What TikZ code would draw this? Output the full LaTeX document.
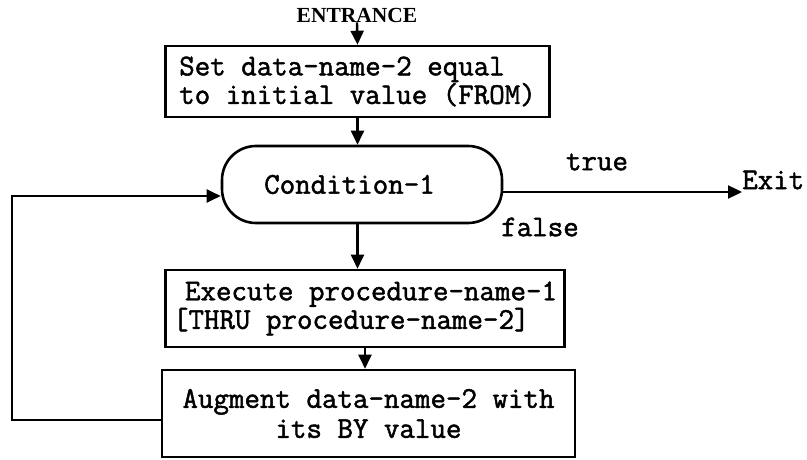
\documentclass[tikz,border=0pt]{standalone}
\usepackage{fontspec}
\usetikzlibrary{arrows.meta}
\newfontfamily\tw[FakeBold=1.6]{Latin Modern Mono}
\newfontfamily\hd{Liberation Serif}
\tikzset{
  tt/.style={font=\tw\fontsize{30.1}{26}\selectfont},
  stepbox/.style={draw, line width=2.6pt, tt, inner ysep=0pt},
  arr/.style={line width=2.4pt, -{Triangle[length=14pt,width=13pt]}},
  lbl/.style={tt, inner sep=0pt},
}
\begin{document}
\begin{tikzpicture}[x=1pt, y=-1pt]
\useasboundingbox (0,0) rectangle (807,460);

% entry label
\node[font=\hd\bfseries\fontsize{21.5}{24}\selectfont, inner sep=0pt] (entry) at (357,15) {ENTRANCE};

% initialisation box
\node[stepbox, align=left, inner xsep=14pt, minimum height=71pt] (init) at (357.5,81.5)
  {Set data-name-2 equal\\to initial value (FROM)};

% loop test
\node[draw, line width=2.6pt, rounded corners=34pt, minimum width=280pt, minimum height=77pt, tt]
  (cond) at (362,184.5) {Condition-1\hspace*{25pt}};

% loop body
\node[stepbox, align=left, inner xsep=7.5pt, minimum height=77pt] (exec) at (365,308.5)
  {\hspace*{12pt}Execute procedure-name-1\\{}[THRU procedure-name-2]};

% increment
\node[stepbox, align=center, font=\tw\fontsize{30.1}{30}\selectfont, minimum width=413pt, minimum height=87pt]
  (aug) at (368.5,413.5) {Augment data-name-2 with\\its BY value};

% branch labels
\node[lbl] (true) at (597,162) {true};
\node[lbl] (false) at (540,227) {false};
\node[lbl, anchor=west] (exit) at (742,180) {Exit};

% loop-back corners
\coordinate (loopA) at (12,420);
\coordinate (loopB) at (12,196);
\coordinate (exitY) at (0,192);

% connectors
\draw[arr] (entry.south) -- (init.north);
\draw[arr] (init.south) -- (init.south |- cond.north);
\draw[arr] (init.south |- cond.south) -- (init.south |- exec.north);
\draw[arr] (exec.south) -- (exec.south |- aug.north);
\draw[arr] (cond.east |- exitY) -- (exit.west |- exitY);
\draw[arr] (aug.west |- loopA) -- (loopA) -- (loopB) -- (cond.west |- loopB);
\end{tikzpicture}
\end{document}
